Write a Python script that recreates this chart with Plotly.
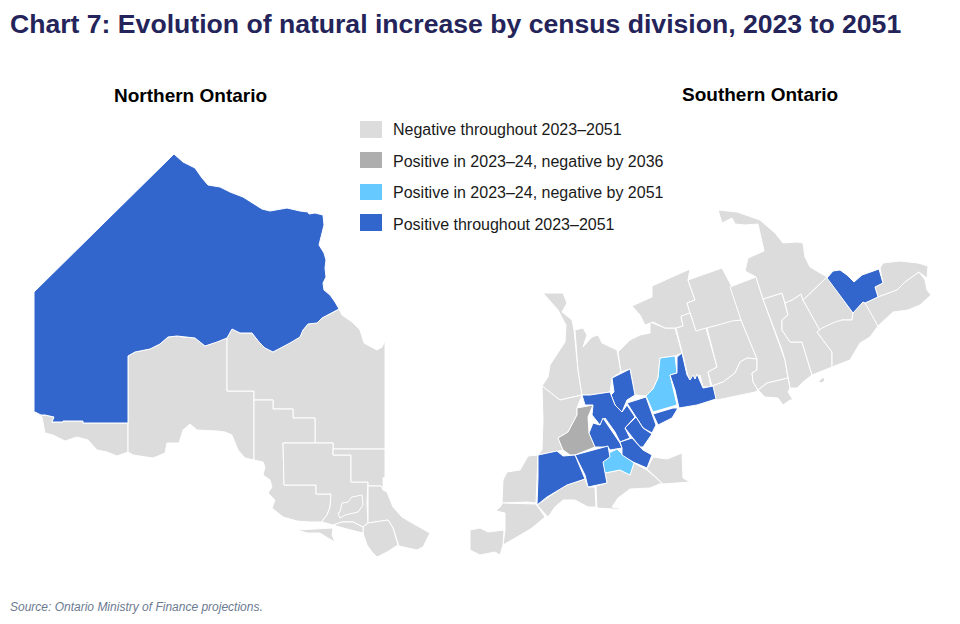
import plotly.graph_objects as go

# Census division outlines (picture pixels)
kenora = [(34,292),(174,154),(183,162),(195,168),(202,178),(208,185),(220,187),(230,192),(243,197),(252,203),(262,209),(270,211),(287,208),(300,211),(308,212),(309,214),(315,213),(323,215),(324,225),(322,233),(319,245),(324,253),(326,260),(325,268),(326,277),(323,283),(324,290),(330,295),(335,302),(339,309),(332,313),(322,318),(317,323),(308,324),(303,330),(300,337),(290,343),(282,347),(273,352),(265,348),(259,342),(252,333),(240,333),(232,329),(227,338),(217,342),(205,346),(195,338),(183,337),(177,336),(168,337),(160,344),(150,349),(135,352),(128,356),(128,423),(83,423),(83,421),(63,421),(63,422),(52,422),(54,417),(45,415),(41,415),(35,412),(34,412)]
rainy_river = [(34,412),(41,415),(45,415),(54,417),(52,422),(63,422),(63,421),(83,421),(83,423),(128,423),(128,452),(117,456),(107,452),(97,450),(88,440),(77,437),(65,441),(53,435),(45,433),(42,417)]
thunder_bay = [(128,356),(135,352),(150,349),(160,344),(168,337),(177,336),(183,337),(195,338),(205,346),(217,342),(227,338),(227,391),(254,391),(254,460),(245,458),(238,450),(232,435),(225,432),(217,431),(197,430),(190,424),(183,430),(179,443),(167,443),(165,453),(153,458),(133,455),(128,452)]
cochrane = [(227,338),(232,329),(240,333),(252,333),(259,342),(265,348),(273,352),(282,347),(290,343),(300,337),(303,330),(308,324),(317,323),(322,318),(332,313),(339,309),(342,315),(352,322),(360,330),(364,343),(377,350),(382,347),(385,341),(385,449),(333,449),(333,443),(315,443),(315,418),(293,418),(293,409),(273,409),(273,400),(254,400),(254,391),(227,391)]
algoma = [(254,400),(273,400),(273,409),(293,409),(293,418),(315,418),(315,443),(283,443),(284,485),(316,485),(316,494),(331,494),(330,507),(327,515),(323,520),(322,522),(310,522),(297,521),(283,517),(272,508),(275,500),(268,493),(272,487),(270,480),(263,475),(265,467),(263,462),(254,460)]
sudbury_district = [(283,443),(333,443),(333,455),(351,455),(351,482),(368,482),(367,503),(368,523),(363,527),(353,522),(342,522),(333,525),(322,522),(323,520),(327,515),(330,507),(331,494),(316,494),(316,485),(284,485)]
greater_sudbury = [(340,512),(342,503),(348,502),(352,497),(362,495),(363,505),(358,512),(345,515),(340,518),(338,513)]
timiskaming = [(333,449),(385,449),(385,477),(383,478),(383,490),(381,486),(368,486),(368,482),(351,482),(351,455),(333,455)]
nipissing = [(368,486),(381,486),(383,490),(387,492),(393,507),(402,517),(412,523),(430,533),(423,547),(417,550),(399,546),(393,528),(388,520),(368,523)]
parry_sound_n = [(363,527),(368,523),(388,520),(393,528),(398,545),(387,552),(377,557),(372,552),(367,545),(363,533)]
manitoulin_main = [(342,522),(353,522),(363,527),(363,533),(347,529),(333,525)]
manitoulin = [(297,530),(322,529),(333,528),(332,535),(335,542),(328,538),(320,533),(307,533)]

bruce = [(543,293),(563,293),(567,303),(562,312),(572,320),(574,330),(578,370),(582,395),(560,400),(542,386),(548,377),(550,365),(565,342),(566,325),(558,310),(548,298)]
grey = [(575,330),(583,328),(587,335),(583,347),(592,337),(598,335),(602,343),(617,350),(621,372),(612,378),(610,392),(590,395),(582,395),(578,370)]
simcoe = [(618,352),(630,340),(640,335),(650,333),(650,322),(665,328),(675,328),(682,353),(675,356),(660,358),(658,378),(653,389),(646,396),(635,395),(630,369),(621,372)]
huron = [(542,386),(560,400),(582,395),(582,395),(577,408),(577,415),(568,432),(558,438),(563,450),(538,455),(542,450),(543,420)]
lambton = [(538,455),(537,488),(536,503),(527,502),(502,503),(503,480),(507,472),(520,470),(528,456)]
chatham_kent = [(502,503),(536,504),(545,517),(532,528),(517,537),(503,545),(505,530),(505,513),(496,511),(501,506)]
essex = [(470,530),(480,528),(488,532),(504,530),(503,545),(500,555),(495,552),(480,555),(470,550)]
elgin = [(537,505),(557,491),(567,485),(585,479),(588,487),(595,487),(596,507),(588,507),(575,500),(563,500),(555,507),(548,517)]
haldimand_norfolk = [(596,486),(607,483),(605,473),(620,470),(630,475),(634,463),(647,470),(662,483),(650,488),(630,489),(618,498),(612,507),(628,510),(597,508)]
niagara = [(647,469),(652,460),(653,457),(667,459),(682,453),(683,478),(690,482),(663,484)]
parry_sound_s = [(632,306),(652,297),(652,286),(690,269),(688,280),(695,300),(687,303),(690,313),(681,317),(683,326),(676,328),(665,328),(653,322),(645,325),(640,315)]
haliburton = [(688,280),(722,268),(732,287),(741,320),(732,322),(707,328),(696,332),(687,303),(695,300)]
muskoka = [(681,316),(690,313),(696,331),(706,328),(717,367),(708,372),(711,387),(703,387),(700,375),(697,377),(689,380),(682,353),(676,328),(683,326)]
kawartha = [(707,328),(732,321),(741,320),(757,359),(747,358),(740,362),(735,373),(723,382),(712,386),(708,372),(717,367)]
northumberland = [(712,386),(723,382),(735,373),(740,362),(747,358),(757,359),(757,370),(752,373),(753,382),(758,390),(755,392),(740,395),(717,400),(714,397)]
hastings = [(730,287),(756,277),(763,299),(782,350),(785,360),(788,378),(767,383),(758,390),(753,382),(752,373),(757,370),(757,359),(741,320)]
lennox = [(763,299),(782,293),(788,315),(782,320),(782,330),(790,342),(802,342),(812,375),(803,382),(797,388),(790,388),(788,378),(785,360),(782,350)]
frontenac = [(785,303),(792,300),(801,294),(803,300),(832,352),(832,367),(812,375),(802,342),(790,342),(782,330),(782,320),(788,315)]
prince_edward = [(758,390),(767,383),(788,378),(790,388),(788,392),(793,400),(790,400),(783,405),(778,398),(765,397),(760,392)]
wolfe_island = [(818,382),(823,377),(825,380),(822,383)]
lanark = [(803,300),(827,277),(853,313),(852,320),(842,320),(835,323),(828,335),(817,332),(832,352)]
leeds = [(817,332),(822,328),(835,322),(842,320),(852,320),(853,313),(863,302),(866,303),(878,326),(870,337),(860,343),(850,360),(837,365),(832,367),(832,352)]
renfrew = [(718,210),(737,212),(760,220),(775,233),(783,243),(797,242),(803,243),(805,257),(810,267),(827,277),(803,300),(801,294),(792,300),(785,303),(782,293),(763,299),(756,277),(745,271),(748,258),(764,251),(758,224),(745,225),(735,224),(732,218),(722,223)]
prescott_russell = [(880,268),(883,263),(900,261),(918,263),(928,266),(927,278),(919,272),(905,282),(897,290),(878,297),(875,287),(883,283)]
stormont = [(878,297),(897,290),(905,282),(919,272),(925,280),(927,290),(931,295),(920,305),(908,310),(893,312),(878,326),(865,303)]

perth = [(577,408),(593,405),(588,417),(589,433),(595,447),(575,455),(570,455),(563,450),(558,438),(568,432),(577,415)]

york = [(660,358),(675,356),(677,373),(670,375),(677,405),(653,412),(646,396),(653,389),(658,378)]
brant = [(609,453),(617,449),(621,453),(634,463),(630,475),(620,470),(605,473),(602,462)]

dufferin = [(612,378),(630,369),(635,395),(627,400),(622,412),(615,405),(611,395),(614,392)]
wellington = [(582,395),(590,395),(610,392),(611,395),(615,405),(622,412),(627,405),(635,417),(625,428),(630,438),(620,442),(615,432),(605,418),(600,425),(592,415),(593,405),(585,405)]
waterloo = [(603,418),(615,435),(620,443),(622,448),(610,450),(608,447),(595,447),(589,433),(593,423),(600,425)]
peel = [(627,403),(646,397),(656,425),(652,433),(643,428),(636,417)]
halton = [(636,417),(643,428),(652,434),(643,447),(640,447),(632,437),(625,428)]
hamilton = [(632,438),(640,447),(643,450),(652,455),(647,468),(633,462),(622,455),(622,448),(620,442)]
toronto = [(653,414),(673,408),(678,408),(672,418),(658,425)]
durham = [(670,375),(677,373),(677,357),(682,353),(687,375),(690,380),(693,375),(695,379),(697,374),(703,388),(713,386),(716,399),(697,405),(679,408),(675,390)]
oxford = [(575,455),(608,446),(610,457),(603,462),(607,483),(588,487),(585,475)]
middlesex = [(538,455),(557,451),(563,456),(575,455),(585,479),(567,485),(557,491),(547,497),(537,505),(538,477)]
ottawa = [(827,278),(833,271),(840,270),(847,275),(854,282),(862,275),(879,269),(883,283),(875,287),(878,297),(865,303),(863,302),(853,313)]

negative_divisions = [rainy_river, thunder_bay, cochrane, algoma, sudbury_district, greater_sudbury, timiskaming, nipissing, parry_sound_n, manitoulin_main, manitoulin, bruce, grey, simcoe, huron, lambton, chatham_kent, essex, elgin, haldimand_norfolk, niagara, parry_sound_s, haliburton, muskoka, kawartha, northumberland, hastings, lennox, frontenac, prince_edward, wolfe_island, lanark, leeds, renfrew, prescott_russell, stormont]
negative_by_2036 = [perth]
negative_by_2051 = [york, brant]
positive_divisions = [kenora, dufferin, wellington, waterloo, peel, halton, hamilton, toronto, durham, oxford, middlesex, ottawa]

categories = ["Negative throughout 2023–2051", "Positive in 2023–24, negative by 2036",
              "Positive in 2023–24, negative by 2051", "Positive throughout 2023–2051"]
category_colors = ["#DCDCDC", "#AEAEAE", "#66C9FF", "#3366CC"]
category_divisions = [negative_divisions, negative_by_2036, negative_by_2051, positive_divisions]

fig = go.Figure()

for color, divisions in zip(category_colors, category_divisions):
    for outline in divisions:
        xs = [p[0] for p in outline] + [outline[0][0]]
        ys = [p[1] for p in outline] + [outline[0][1]]
        fig.add_trace(go.Scatter(x=xs, y=ys, mode="lines", fill="toself", fillcolor=color,
                                 line=dict(color="white", width=1), hoverinfo="skip", showlegend=False))

# Legend is drawn by hand so the swatches keep the reference's size
swatch_tops = [121, 152, 184, 214]
swatch_bottoms = [138, 168, 200, 231]
legend_text_y = [129, 161, 192, 224]
shapes = []
annotations = []
for name, color, top, bottom, text_y in zip(categories, category_colors, swatch_tops, swatch_bottoms, legend_text_y):
    shapes.append(dict(type="rect", xref="x", yref="y", x0=360, x1=382, y0=top, y1=bottom,
                       fillcolor=color, line_width=0))
    annotations.append(dict(x=391, y=text_y, xref="x", yref="y", text=name, showarrow=False, xanchor="left",
                            font=dict(family="Liberation Sans", size=16, color="#1a1a1a")))

annotations.append(dict(x=8, y=24, xref="x", yref="y", text="<b>Chart 7: Evolution of natural increase by census division, 2023 to 2051</b>",
                        showarrow=False, xanchor="left", font=dict(family="Liberation Sans", size=26.6, color="#24245A")))
annotations.append(dict(x=190.5, y=95, xref="x", yref="y", text="<b>Northern Ontario</b>", showarrow=False,
                        font=dict(family="Liberation Sans", size=19, color="black")))
annotations.append(dict(x=760, y=94, xref="x", yref="y", text="<b>Southern Ontario</b>", showarrow=False,
                        font=dict(family="Liberation Sans", size=19, color="black")))
annotations.append(dict(x=8, y=607, xref="x", yref="y", text="<i>Source: Ontario Ministry of Finance projections.</i>",
                        showarrow=False, xanchor="left", font=dict(family="Liberation Sans", size=12, color="#6B7A90")))

# The page body has an 8px margin, so the ranges start at 8 to keep picture pixels
fig.update_xaxes(range=[8, 968], visible=False)
fig.update_yaxes(range=[632, 8], visible=False)
fig.update_layout(width=960, height=624, margin=dict(l=0, r=0, t=0, b=0), plot_bgcolor="white",
                  paper_bgcolor="white", shapes=shapes, annotations=annotations)

fig.write_html("out.html")
